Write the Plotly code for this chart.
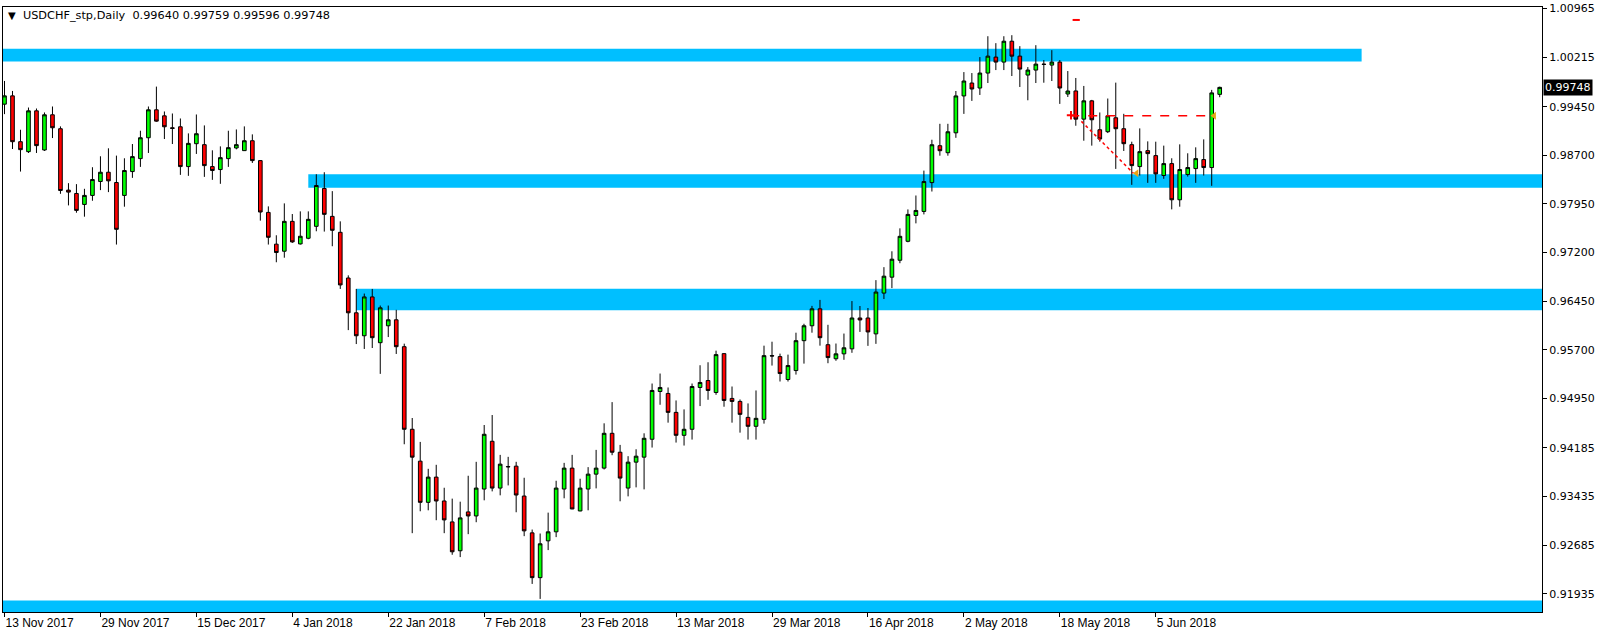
import plotly.graph_objects as go

# ---- data (bar index 0 = 13 Nov 2017, daily bars) ----
opens = [0.99489,0.99617,0.98910,0.98756,0.99386,0.98782,0.99325,0.99110,0.98163,0.98111,
         0.97942,0.98081,0.98296,0.98439,0.98280,0.98081,0.98449,0.98649,0.98971,0.99402,
         0.99309,0.99125,0.99140,0.98526,0.98879,0.98864,0.98526,0.98480,0.98649,0.98813,
         0.98772,0.98925,0.98618,0.97819,0.97329,0.97220,0.97681,0.97333,0.97420,0.97604,
         0.98188,0.97758,0.97512,0.96807,0.96270,0.95916,0.96515,0.95809,0.96070,0.96162,
         0.95747,0.94473,0.93981,0.93346,0.93735,0.93367,0.93044,0.92599,0.93198,0.93136,
         0.93551,0.94288,0.93566,0.93899,0.93904,0.93443,0.92875,0.92184,0.92752,0.92891,
         0.93551,0.93874,0.93213,0.93551,0.93781,0.93874,0.94411,0.94119,0.93566,0.93966,
         0.94043,0.94319,0.95056,0.95026,0.94734,0.94380,0.94473,0.95118,0.95225,0.95041,
         0.95640,0.94949,0.94903,0.94657,0.94519,0.94626,0.95609,0.95594,0.95241,0.95379,
         0.95840,0.96070,0.96331,0.95778,0.95561,0.95637,0.95714,0.96190,0.96190,0.95945,
         0.96574,0.96820,0.97081,0.97373,0.97772,0.97834,0.98279,0.98848,0.98740,0.99047,
         0.99616,0.99815,0.99738,0.99969,1.00215,1.00138,1.00460,1.00230,0.99938,1.00015,
         1.00107,1.00092,1.00138,0.99646,0.99693,0.99258,0.99540,0.99094,0.99064,0.99279,
         0.99110,0.98864,0.98526,0.98772,0.98695,0.98388,0.98572,0.98014,0.98403,0.98495,
         0.98634,0.98511,0.99640]
highs = [0.99847,0.99693,0.99094,0.99437,0.99422,0.99361,0.99453,0.99146,0.98270,0.98255,
         0.98183,0.98516,0.98685,0.98808,0.98695,0.98654,0.98874,0.99079,0.99453,0.99760,
         0.99376,0.99345,0.99268,0.99038,0.99330,0.99161,0.98777,0.98838,0.99079,0.99099,
         0.99146,0.99023,0.98625,0.97912,0.97466,0.97958,0.97794,0.97835,0.97835,0.98408,
         0.98439,0.98147,0.97681,0.96848,0.96638,0.96567,0.96638,0.96382,0.96382,0.96316,
         0.95794,0.94647,0.94278,0.93863,0.93925,0.93571,0.93403,0.93356,0.93756,0.93971,
         0.94539,0.94693,0.94078,0.94048,0.93971,0.93725,0.92926,0.92865,0.93187,0.93679,
         0.93955,0.94078,0.93710,0.93889,0.94155,0.94565,0.94892,0.94232,0.94058,0.94165,
         0.94411,0.95179,0.95333,0.95118,0.94918,0.94780,0.95179,0.95461,0.95507,0.95686,
         0.95645,0.95133,0.94933,0.94872,0.95072,0.95763,0.95824,0.95640,0.95625,0.95963,
         0.96101,0.96377,0.96469,0.96085,0.95796,0.95950,0.96451,0.96375,0.96344,0.96774,
         0.96974,0.97219,0.97573,0.97865,0.98080,0.98464,0.98940,0.99186,0.99186,0.99692,
         0.99984,0.99969,1.00215,1.00537,1.00430,1.00537,1.00553,1.00384,1.00061,1.00399,
         1.00169,1.00322,1.00169,1.00000,0.99893,0.99770,0.99555,0.99361,0.99576,0.99821,
         0.99340,0.98910,0.99115,0.98915,0.98910,0.98849,0.98654,0.98869,0.98731,0.98823,
         0.98946,0.99709,0.99759]
lows = [0.99335,0.98797,0.98449,0.98736,0.98736,0.98767,0.98966,0.98106,0.97927,0.97814,
        0.97753,0.97999,0.98163,0.98132,0.97323,0.97907,0.98352,0.98521,0.98736,0.99217,
        0.98951,0.98874,0.98398,0.98383,0.98721,0.98367,0.98321,0.98260,0.98521,0.98792,
        0.98767,0.98582,0.97692,0.97323,0.97050,0.97120,0.97348,0.97323,0.97405,0.97528,
        0.97523,0.97297,0.96638,0.96003,0.95788,0.95712,0.95727,0.95328,0.95896,0.95635,
        0.94242,0.92870,0.93208,0.93223,0.93070,0.92870,0.92537,0.92501,0.92855,0.93039,
        0.93377,0.93515,0.93454,0.93607,0.93193,0.92824,0.92087,0.91856,0.92609,0.92809,
        0.93408,0.93240,0.93208,0.93223,0.93561,0.93853,0.94073,0.93362,0.93438,0.93577,
        0.93546,0.94191,0.94851,0.94575,0.94268,0.94222,0.94314,0.94831,0.94928,0.95005,
        0.94821,0.94575,0.94421,0.94314,0.94314,0.94560,0.95456,0.95210,0.95210,0.95317,
        0.95486,0.95963,0.95763,0.95492,0.95530,0.95545,0.95653,0.95975,0.95760,0.95791,
        0.96482,0.96651,0.97035,0.97358,0.97650,0.97788,0.98141,0.98694,0.98694,0.98970,
        0.99339,0.99539,0.99631,0.99815,1.00015,1.00015,0.99923,0.99754,0.99549,0.99815,
        0.99820,0.99846,0.99493,0.99600,0.99156,0.98925,0.98849,0.98910,0.99043,0.98490,
        0.98767,0.98244,0.98388,0.98275,0.98275,0.98337,0.97866,0.97907,0.98372,0.98275,
        0.98388,0.98229,0.99596]
closes = [0.99617,0.98910,0.98787,0.99386,0.98849,0.99325,0.99125,0.98157,0.98132,0.97850,
          0.98081,0.98326,0.98439,0.98306,0.97558,0.98465,0.98680,0.98971,0.99402,0.99227,
          0.99140,0.99115,0.98526,0.98884,0.99033,0.98541,0.98465,0.98664,0.98818,0.98864,
          0.98925,0.98618,0.97825,0.97435,0.97200,0.97681,0.97364,0.97451,0.97712,0.98234,
          0.97789,0.97543,0.96700,0.96270,0.95916,0.96515,0.95886,0.96347,0.96162,0.95747,
          0.94473,0.94043,0.93346,0.93735,0.93367,0.93075,0.92583,0.93106,0.93136,0.93566,
          0.94396,0.93566,0.93935,0.93894,0.93459,0.92906,0.92184,0.92706,0.92891,0.93566,
          0.93874,0.93244,0.93566,0.93781,0.93874,0.94411,0.94119,0.93720,0.93966,0.94058,
          0.94334,0.95072,0.95118,0.94734,0.94380,0.94473,0.95133,0.95195,0.95072,0.95625,
          0.94918,0.94903,0.94703,0.94519,0.94642,0.95609,0.95604,0.95333,0.95456,0.95840,
          0.96070,0.96331,0.95886,0.95579,0.95637,0.95730,0.96190,0.96160,0.95975,0.96590,
          0.96835,0.97097,0.97450,0.97788,0.97849,0.98295,0.98863,0.98771,0.99063,0.99616,
          0.99846,0.99723,0.99969,1.00230,1.00138,1.00460,1.00230,1.00030,1.00015,1.00107,
          1.00102,1.00138,0.99738,0.99692,0.99258,0.99540,0.99248,0.98951,0.99309,0.99110,
          0.98879,0.98541,0.98756,0.98726,0.98413,0.98572,0.98014,0.98480,0.98511,0.98649,
          0.98511,0.99663,0.99748]

date_tick_bars = [0, 12, 24, 36, 48, 60, 72, 84, 96, 108, 120, 132, 144]
date_tick_labels = ["13 Nov 2017", "29 Nov 2017", "15 Dec 2017", "4 Jan 2018", "22 Jan 2018",
                    "7 Feb 2018", "23 Feb 2018", "13 Mar 2018", "29 Mar 2018", "16 Apr 2018",
                    "2 May 2018", "18 May 2018", "5 Jun 2018"]
price_ticks = [1.00965, 1.00215, 0.99450, 0.98700, 0.97950, 0.97200, 0.96450,
               0.95700, 0.94950, 0.94185, 0.93435, 0.92685, 0.91935]

# zones: (start bar or None = from left edge, end bar or None = to right edge, top, bottom)
zone_starts = [None, 38, 44, None]
zone_ends = [169.75, None, None, None]
zone_tops = [1.00343, 0.98409, 0.96643, 0.91832]
zone_bottoms = [1.00148, 0.98199, 0.96310, 0.91600]

# trade history markers
trade_line_bars = [133.3, 151.2]
trade_line_price = [0.99310, 0.99310]
trade_diag_bars = [134.7, 141.2]
trade_diag_prices = [0.99223, 0.98424]
close_marker_bars = [141.6, 151.3]
close_marker_prices = [0.98424, 0.99310]
open_marker_bar = [133.4]
open_marker_price = [0.99318]
top_mark_bars = [133.6, 134.5]
top_mark_price = [1.00788, 1.00788]

title_text = "USDCHF_stp,Daily  0.99640 0.99759 0.99596 0.99748"
last_price = closes[-1]

bars = list(range(len(opens)))
X_MIN, X_MAX = -0.1875, 192.3125
Y_MIN, Y_MAX = 0.91654, 1.00988

fig = go.Figure()
fig.add_trace(go.Candlestick(
    x=bars, open=opens, high=highs, low=lows, close=closes,
    increasing=dict(fillcolor="#00FF00", line=dict(color="black", width=1)),
    decreasing=dict(fillcolor="#FF0000", line=dict(color="black", width=1)),
    whiskerwidth=0, hoverinfo="skip", showlegend=False))

fig.add_trace(go.Scatter(x=trade_line_bars, y=trade_line_price, mode="lines",
                         line=dict(color="#FF0000", width=1.5, dash="dash"),
                         hoverinfo="skip", showlegend=False))
fig.add_trace(go.Scatter(x=trade_diag_bars, y=trade_diag_prices, mode="lines",
                         line=dict(color="#FF0000", width=1.5, dash="dot"),
                         hoverinfo="skip", showlegend=False))
fig.add_trace(go.Scatter(x=close_marker_bars, y=close_marker_prices, mode="markers",
                         marker=dict(symbol="triangle-left", size=7, color="#E8A317"),
                         hoverinfo="skip", showlegend=False))
fig.add_trace(go.Scatter(x=open_marker_bar, y=open_marker_price, mode="markers",
                         marker=dict(symbol="cross-thin", size=6, color="#FF0000",
                                     line=dict(color="#FF0000", width=2)),
                         hoverinfo="skip", showlegend=False))
fig.add_trace(go.Scatter(x=top_mark_bars, y=top_mark_price, mode="lines",
                         line=dict(color="#FF0000", width=2),
                         hoverinfo="skip", showlegend=False))

for s, e, t, b in zip(zone_starts, zone_ends, zone_tops, zone_bottoms):
    fig.add_shape(type="rect", xref="x", yref="y",
                  x0=X_MIN - 1 if s is None else s,
                  x1=X_MAX + 5 if e is None else e,
                  y0=b, y1=t, fillcolor="#00BFFF", line=dict(width=0), layer="below")

fig.add_annotation(xref="paper", yref="paper", x=0, y=1, xanchor="left", yanchor="middle",
                   xshift=3, yshift=-8, showarrow=False,
                   text="<span style='font-size:10px'>▼</span>  " + title_text,
                   font=dict(family="DejaVu Sans", size=11.3, color="black"))
fig.add_annotation(xref="paper", yref="y", x=1, y=last_price, xanchor="left", yanchor="middle",
                   xshift=1, showarrow=False, text=f"{last_price:.5f}",
                   bgcolor="black", borderpad=1,
                   font=dict(family="DejaVu Sans", size=11, color="white"))

fig.update_layout(
    width=1604, height=637,
    margin=dict(l=2, r=62, t=4, b=25),
    paper_bgcolor="white", plot_bgcolor="white",
    boxgap=0.35, showlegend=False,
    xaxis=dict(range=[X_MIN, X_MAX], rangeslider=dict(visible=False),
               tickvals=date_tick_bars, ticktext=date_tick_labels,
               ticks="outside", ticklen=4, tickcolor="black",
               ticklabelposition="outside right",
               showgrid=False, zeroline=False,
               showline=True, linecolor="black", linewidth=1, mirror=True,
               tickfont=dict(family="Liberation Sans", size=12, color="black")),
    yaxis=dict(range=[Y_MIN, Y_MAX], side="right",
               tickvals=price_ticks, ticktext=[f"{v:.5f}" for v in price_ticks],
               ticks="outside", ticklen=4, tickcolor="black",
               ticklabeloverflow="allow",
               showgrid=False, zeroline=False,
               showline=True, linecolor="black", linewidth=1, mirror=True,
               tickfont=dict(family="DejaVu Sans", size=11, color="black")),
)

fig.write_html("out.html", config={"displayModeBar": False},
               post_script="document.body.style.margin='0';document.body.style.overflow='hidden';")
